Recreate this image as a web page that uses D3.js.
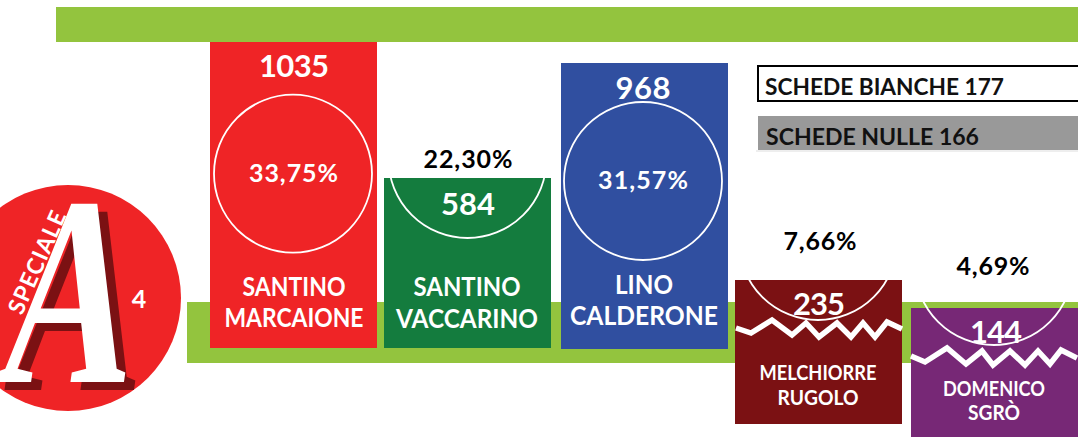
<!DOCTYPE html>
<html><head><meta charset="utf-8">
<script src="https://cdn.jsdelivr.net/npm/d3@7"></script>
<style>html,body{margin:0;padding:0;background:#fff;overflow:hidden}svg{display:block}</style>
</head><body><svg id="c" width="1078" height="437"></svg>
<script>
const keys = ["marcaione","vaccarino","calderone","rugolo","sgro"];
const nameLines = [["SANTINO","MARCAIONE"],["SANTINO","VACCARINO"],["LINO","CALDERONE"],["MELCHIORRE","RUGOLO"],["DOMENICO","SGRÒ"]];
const votes = [1035,584,968,235,144];
const percents = ["33,75%","22,30%","31,57%","7,66%","4,69%"];
const blankLabel = "SCHEDE BIANCHE 177";
const nullLabel = "SCHEDE NULLE 166";
const colors = ["#ef2426","#147c3e","#304fa0","#7b1113","#772876"];

const FONT = "Lato,'Open Sans',sans-serif";
const svg = d3.select("#c");
const x = d3.scaleOrdinal(keys,[210,384,561,735,911]);
const bw = 167;
// the reference's bars are hand-set, so the scale passes through each read height
const y = d3.scaleLinear().domain([144,235,584,968,1035]).range([308,280,178,63,42]);
const bottoms = [348,348,349,424,437];

const green = "#93c43e";
svg.append("rect").attr("x",56).attr("y",7).attr("width",1022).attr("height",35).attr("fill",green);
svg.append("rect").attr("x",187).attr("y",302).attr("width",891).attr("height",61).attr("fill",green);

function label(g,t,cx,base,w,size,fill,anchor="middle",adj="spacing"){
  return g.append("text").text(t).attr("x",cx).attr("y",base)
    .attr("text-anchor",anchor).attr("textLength",w).attr("lengthAdjust",adj)
    .attr("font-family",FONT).attr("font-weight",700).attr("font-size",size).attr("fill",fill);
}

const circ = [[83,173.7],[83.5,159],[82,181],[83,241],[83,266]];
const cols = keys.map((k,i)=>{
  const g = svg.append("g");
  const l = x(k), top = y(votes[i]);
  g.append("rect").attr("x",l).attr("y",top).attr("width",bw).attr("height",bottoms[i]-top).attr("fill",colors[i]);
  g.append("circle").attr("cx",l+circ[i][0]).attr("cy",circ[i][1]).attr("r",79)
    .attr("fill","none").attr("stroke","#fff").attr("stroke-width",1.8);
  return g;
});

[[294,77,70],[468,215,54],[643,99,55],[819,315,52],[996,343,52]].forEach((p,i)=>label(cols[i],votes[i],p[0],p[1],p[2],31,"#fff"));
[[293.5,182,89,"#fff"],[468,168,89,"#000"],[643,189,90,"#fff"],[820,250,73,"#000"],[993,275,73,"#000"]].forEach((p,i)=>label(cols[i],percents[i],p[0],p[1],p[2],25,p[3]));
[[[294,296,103,26],[294,327,139,26]],[[467,296,107,26],[467,328,142,26]],[[644,294,58,26],[644,325,148,26]],[[818,380,117,21],[818,405,81,21]],[[994,396,102,21],[994,420,52,21]]]
.forEach((ls,i)=>ls.forEach((p,j)=>label(cols[i],nameLines[i][j],p[0],p[1],p[2],p[3],"#fff","middle","spacingAndGlyphs")));

// torn edge of the two cut-off columns
const zig = [[[1,48],[16,53],[37,40],[57,55],[71,43],[84,57],[102,43],[116,57],[128,43],[140,57],[152,42],[167,49]],
             [[0,48],[14,54],[36,40],[55,56],[71,43],[82,57],[99,43],[114,57],[127,43],[139,56],[150,42],[166,50]]];
[3,4].forEach((i,n)=>{
  const l = x(keys[i]), top = y(votes[i]);
  cols[i].append("path").attr("d",d3.line().x(d=>l+d[0]).y(d=>top+d[1])(zig[n]))
    .attr("fill","none").attr("stroke","#fff").attr("stroke-width",5.5);
});

svg.append("rect").attr("x",758).attr("y",66).attr("width",330).attr("height",35).attr("fill","#fff").attr("stroke","#000").attr("stroke-width",2);
label(svg,blankLabel,765,95,239,23,"#111","start","spacingAndGlyphs");
svg.append("rect").attr("x",758).attr("y",116).attr("width",320).attr("height",34).attr("fill","#999");
svg.append("rect").attr("x",756).attr("y",150.5).attr("width",322).attr("height",1).attr("fill","#ddd");
label(svg,nullLabel,766,145,213,23,"#111","start","spacingAndGlyphs");

svg.append("circle").attr("cx",68).attr("cy",298).attr("r",113).attr("fill","#ef2426");
const bigA=(dx,dy,f)=>svg.append("text").text("A").attr("transform",`translate(${dx},${dy}) skewX(-8) scale(0.68,1)`)
  .attr("text-anchor","middle").attr("font-family","'Liberation Serif',serif").attr("font-weight",700).attr("font-size",270).attr("fill",f);
bigA(69,390,"#7b1113");
bigA(59,382,"#fff");
svg.append("text").text("SPECIALE").attr("transform","translate(22,316) rotate(-66)")
  .attr("textLength",110).attr("lengthAdjust","spacing")
  .attr("font-family",FONT).attr("font-weight",700).attr("font-size",23).attr("fill","#fff");
label(svg,"4",139,308,15,25,"#fff");
</script></body></html>
